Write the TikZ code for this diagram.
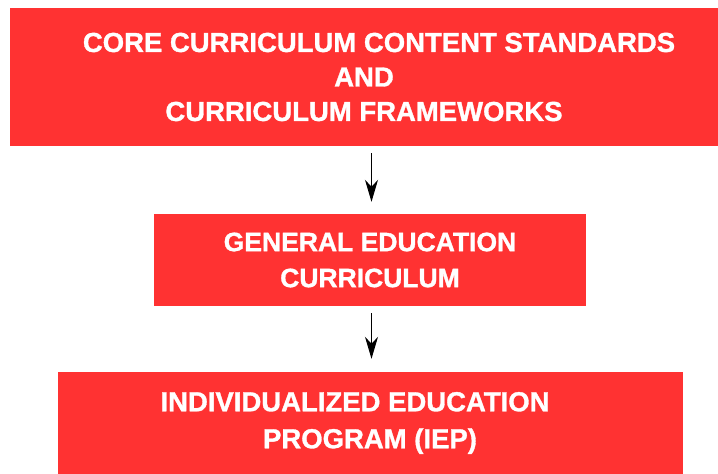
\documentclass[tikz,border=0pt]{standalone}
\usepackage{fontspec}
\setmainfont{Liberation Sans}[BoldFeatures = {FakeBold = 1.2}]
\usepackage{tikz}
\usetikzlibrary{arrows.meta, positioning}
\usepackage{xcolor}
\definecolor{rosso}{RGB}{255,50,50}
\tikzset{
    scatola/.style = {fill = rosso, text = white, inner sep = 0pt, align = center, font = \bfseries},
    freccia/.style = {draw = black, line width = 1pt, -{Stealth[length = 22pt, width = 13pt, inset = 7pt]}}
}
\begin{document}
\begin{tikzpicture}[x = 1pt, y = -1pt]
    % bordi
    \useasboundingbox (0,0) rectangle (718,474);
    % scatole
    \node[scatola, minimum width = 708pt, minimum height = 138pt, font = \bfseries\fontsize{27.5}{34.5}\selectfont] (core) at (364,77)
        {\hspace*{30pt}CORE CURRICULUM CONTENT STANDARDS\\AND\\CURRICULUM FRAMEWORKS};
    \node[scatola, minimum width = 432pt, minimum height = 92pt, font = \bfseries\fontsize{26.5}{36}\selectfont] (generale) at (370,260)
        {GENERAL EDUCATION\\CURRICULUM};
    \node[scatola, minimum width = 625pt, minimum height = 102pt, font = \bfseries\fontsize{27.5}{37}\selectfont] (iep) at (370,423)
        {INDIVIDUALIZED EDUCATION\hspace{30pt}\mbox{}\\PROGRAM (IEP)};
    % frecce
    \draw[freccia, shorten <= 7pt, shorten >= 12pt] ([xshift = 1.5pt]core.south -| generale.north) -- ([xshift = 1.5pt]generale.north);
    \draw[freccia, shorten <= 7pt, shorten >= 13pt] ([xshift = 1.5pt]generale.south) -- ([xshift = 1.5pt]iep.north);
\end{tikzpicture}
\end{document}
